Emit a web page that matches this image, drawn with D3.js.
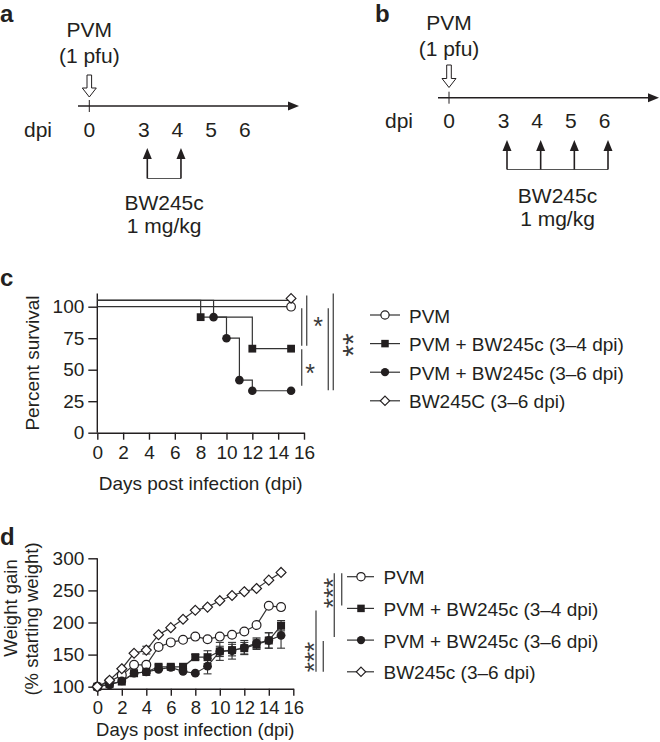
<!DOCTYPE html>
<html><head><meta charset="utf-8">
<script src="https://cdn.jsdelivr.net/npm/d3@7"></script>
<style>
body{margin:0;background:#fff}
svg{display:block;font-family:"Liberation Sans",Arial,Helvetica,sans-serif}
</style>
</head><body>
<svg id="fig" width="660" height="742"></svg>
<script>
// ---------------- DATA ----------------
const timelineDays = [0, 3, 4, 5, 6];
const doseDaysA = [3, 4];
const doseDaysB = [3, 4, 5, 6];

const survTicksX = [0, 2, 4, 6, 8, 10, 12, 14, 16];
const survTicksY = [0, 25, 50, 75, 100];
// Kaplan-Meier steps (day, percent)
const survDaysPVM = [0, 15];
const survValsPVM = [100, 100];
const survDaysBW34 = [0, 8, 12, 15];
const survValsBW34 = [105, 91.7, 66.7, 66.7];
const survDaysBW36 = [0, 9, 10, 11, 12, 15];
const survValsBW36 = [105, 91.7, 75, 41.7, 33.3, 33.3];
const survDaysBW = [0, 15];
const survValsBW = [105, 105];

const weightTicksX = [0, 2, 4, 6, 8, 10, 12, 14, 16];
const weightTicksY = [100, 150, 200, 250, 300];
const weightDays = [0, 1, 2, 3, 4, 5, 6, 7, 8, 9, 10, 11, 12, 13, 14, 15];
const weightPVM  = [100, 108, 118, 134, 134, 162, 169, 173, 178, 174, 178, 181, 186, 196, 226, 224];
const weightBW34 = [100, 104, 108, 121, 123, 131, 131, 131, 146, 146, 155, 157, 160, 166, 172, 195];
const weightBW36 = [100, 103, 109, 121, 123, 127, 130, 124, 121, 132, 155, 156, 161, 168, 172, 180];
const weightBW   = [100, 110, 128, 152, 157, 181, 192, 205, 219, 224, 234, 242, 248, 253, 266, 278];
const errPVM  = [0, 0, 0, 0, 0, 0, 0, 0, 0, 0, 0, 0, 0, 0, 0, 0];
const errBW34 = [0, 0, 0, 2, 2, 3, 3, 3, 4, 10, 8, 9, 9, 8, 12, 8];
const errBW36 = [0, 0, 0, 2, 2, 2, 2, 2, 2, 12, 14, 13, 11, 8, 12, 20];
const errBW   = [0, 0, 0, 0, 6, 0, 0, 0, 0, 0, 0, 0, 0, 0, 0, 0];

const legendC = ["PVM", "PVM + BW245c (3\u20134 dpi)", "PVM + BW245c (3\u20136 dpi)", "BW245C (3\u20136 dpi)"];
const legendD = ["PVM", "PVM + BW245c (3\u20134 dpi)", "PVM + BW245c (3\u20136 dpi)", "BW245c (3\u20136 dpi)"];
const symbols = ["circleOpen", "square", "circle", "diamondOpen"];

// ---------------- HELPERS ----------------
const INK = "#231f20";
const svg = d3.select("#fig");
const FS = 19;

function text(g, x, y, s, o = {}) {
  return g.append("text").attr("x", x).attr("y", y).text(s)
    .attr("font-size", o.fs || FS)
    .attr("font-weight", o.fw || "normal")
    .attr("text-anchor", o.anchor || "start")
    .attr("fill", INK);
}
function marker(g, type, x, y, s) {
  const sw = 1.2;
  if (type === "circleOpen") {
    g.append("circle").attr("cx", x).attr("cy", y).attr("r", s * 0.55)
      .attr("fill", "#fff").attr("stroke", INK).attr("stroke-width", sw);
  } else if (type === "circle") {
    g.append("circle").attr("cx", x).attr("cy", y).attr("r", s * 0.55).attr("fill", INK);
  } else if (type === "square") {
    g.append("rect").attr("x", x - s / 2).attr("y", y - s / 2).attr("width", s).attr("height", s).attr("fill", INK);
  } else if (type === "diamondOpen") {
    const h = s * 0.62;
    g.append("path").attr("d", `M${x},${y - h}L${x + h},${y}L${x},${y + h}L${x - h},${y}Z`)
      .attr("fill", "#fff").attr("stroke", INK).attr("stroke-width", sw);
  }
}
function star(g, x, cy, fs) {
  text(g, x, cy + fs * 0.58, "*", { fs: fs, anchor: "middle" }).attr("fill", "#3a3a3a");
}
// vertically stacked asterisks as one rotated text
function stars(g, cx, cy, n, fs) {
  text(g, 0, 0, "*".repeat(n), { fs: fs, anchor: "middle" }).attr("x", null).attr("y", null)
    .attr("fill", "#3a3a3a")
    .attr("transform", `translate(${cx + fs * 0.58},${cy}) rotate(-90)`);
}
function vline(g, x, y1, y2) {
  g.append("line").attr("x1", x).attr("x2", x).attr("y1", y1).attr("y2", y2)
    .attr("stroke", "#555").attr("stroke-width", 1.4);
}

// ---------------- PANELS a & b (timelines) ----------------
function timeline(cfg) {
  const g = svg.append("g");
  const xs = d3.scaleLinear().domain([0, 3, 6]).range([cfg.x0, cfg.x0 + 54.5, cfg.x0 + 155.5]);
  text(g, cfg.labX, 22, cfg.label, { fs: 24, fw: "bold" });
  text(g, xs(0), cfg.pvmY, "PVM", { fs: 21, anchor: "middle" });
  text(g, xs(0), cfg.pvmY + 26, "(1 pfu)", { fs: 21, anchor: "middle" });
  // hollow arrow
  const ax = xs(0), t = cfg.hollowTop, b = cfg.hollowTip, hw = 7, sw = 2.3, hh = 9;
  g.append("path").attr("d",
    `M${ax - sw},${t}L${ax + sw},${t}L${ax + sw},${b - hh}L${ax + hw},${b - hh}L${ax},${b}L${ax - hw},${b - hh}L${ax - sw},${b - hh}Z`)
    .attr("fill", "#fff").attr("stroke", INK).attr("stroke-width", 1);
  // axis
  g.append("line").attr("x1", cfg.lineStart).attr("x2", cfg.lineEnd - 8).attr("y1", cfg.axisY).attr("y2", cfg.axisY)
    .attr("stroke", INK).attr("stroke-width", 1.6);
  g.append("path").attr("d", `M${cfg.lineEnd},${cfg.axisY}L${cfg.lineEnd - 11},${cfg.axisY - 4.5}L${cfg.lineEnd - 11},${cfg.axisY + 4.5}Z`).attr("fill", INK);
  g.append("line").attr("x1", xs(0)).attr("x2", xs(0)).attr("y1", cfg.axisY - 6).attr("y2", cfg.axisY + 6)
    .attr("stroke", INK).attr("stroke-width", 1);
  text(g, cfg.dpiX, cfg.numY, "dpi", { fs: 21 });
  timelineDays.forEach(d => text(g, xs(d), cfg.numY, String(d), { fs: 21, anchor: "middle" }));
  // dose arrows
  const doses = cfg.doses;
  g.append("line").attr("x1", xs(doses[0]) + 3.5).attr("x2", xs(doses[doses.length - 1]) + 3.5)
    .attr("y1", cfg.arrBottom).attr("y2", cfg.arrBottom).attr("stroke", "#555").attr("stroke-width", 1.2);
  doses.forEach(d => {
    const x = xs(d) + 3.5;
    g.append("line").attr("x1", x).attr("x2", x).attr("y1", cfg.arrBottom).attr("y2", cfg.arrTip + 8)
      .attr("stroke", INK).attr("stroke-width", 1.6);
    g.append("path").attr("d", `M${x},${cfg.arrTip}L${x + 4.5},${cfg.arrTip + 11}L${x - 4.5},${cfg.arrTip + 11}Z`).attr("fill", INK);
  });
  const mid = (xs(doses[0]) + xs(doses[doses.length - 1])) / 2 + 3.5;
  text(g, mid, cfg.bwY, "BW245c", { fs: 21, anchor: "middle" });
  text(g, mid, cfg.bwY + 23, "1 mg/kg", { fs: 21, anchor: "middle" });
}
timeline({ label: "a", labX: 0, x0: 89.3, pvmY: 37, hollowTop: 75, hollowTip: 97, lineStart: 78, lineEnd: 299, axisY: 106,
  dpiX: 24, numY: 137, doses: doseDaysA, arrTip: 148, arrBottom: 178.5, bwY: 210 });
timeline({ label: "b", labX: 375, x0: 449, pvmY: 30, hollowTop: 65, hollowTip: 87.5, lineStart: 438, lineEnd: 659, axisY: 97.7,
  dpiX: 385, numY: 128, doses: doseDaysB, arrTip: 140, arrBottom: 169.5, bwY: 203 });

// ---------------- PANEL c (survival) ----------------
(function () {
  const g = svg.append("g");
  text(g, 0, 286, "c", { fs: 24, fw: "bold" });
  const x = d3.scaleLinear().domain([0, 16]).range([97.3, 304]);
  const y = d3.scaleLinear().domain([0, 100]).range([432.7, 306.7]);
  const axX = g.append("g").attr("transform", `translate(0,${y(0)})`)
    .call(d3.axisBottom(x).tickValues(survTicksX).tickSize(7).tickSizeOuter(0).tickPadding(6));
  const axY = g.append("g").attr("transform", `translate(${x(0)},0)`)
    .call(d3.axisLeft(y).tickValues(survTicksY).tickSize(9).tickSizeOuter(0).tickPadding(4));
  axY.select(".domain").remove();
  g.append("line").attr("x1", x(0)).attr("x2", x(0)).attr("y1", y(0)).attr("y2", y(110.5))
    .attr("stroke", INK).attr("stroke-width", 1.4);
  [axX, axY].forEach(a => {
    a.selectAll("line,path").attr("stroke", INK).attr("stroke-width", 1.4);
    a.selectAll("text").attr("font-size", FS).attr("fill", INK).attr("font-family", null);
  });
  text(g, x(8), 490, "Days post infection (dpi)", { anchor: "middle" });
  text(g, 0, 0, "Percent survival", { anchor: "middle" }).attr("x", null).attr("y", null)
    .attr("transform", `translate(39,363) rotate(-90)`);

  const series = [
    { days: survDaysPVM, vals: survValsPVM, sym: symbols[0] },
    { days: survDaysBW, vals: survValsBW, sym: symbols[3] },
    { days: survDaysBW34, vals: survValsBW34, sym: symbols[1] },
    { days: survDaysBW36, vals: survValsBW36, sym: symbols[2] },
  ];
  const line = d3.line().x(d => x(d[0])).y(d => y(d[1])).curve(d3.curveStepAfter);
  series.forEach(s => {
    const pts = s.days.map((d, i) => [d, s.vals[i]]);
    g.append("path").attr("d", line(pts)).attr("fill", "none").attr("stroke", "#333").attr("stroke-width", 1.2);
  });
  series.forEach(s => {
    s.days.forEach((d, i) => { if (d > 0) marker(g, s.sym, x(d), y(s.vals[i]) + (s.sym === "diamondOpen" ? -2 : 0), 7.8); });
  });
  // significance
  vline(g, 301.7, y(100) + 1.5, y(66.7) - 3);
  vline(g, 306.7, y(105) - 5, y(66.7) - 3);
  star(g, 318, 320, 25);
  vline(g, 301.7, y(66.7) + 0.5, y(33.3) - 5);
  star(g, 310, 367, 25);
  vline(g, 328.3, y(100) + 1.5, y(33.3) - 0.5);
  vline(g, 333.3, y(105) - 7, y(33.3) - 0.5);
  stars(g, 345.7, 345, 2, 30);
  // legend
  legendC.forEach((t, i) => {
    const ly = 315 + i * 28.6;
    g.append("line").attr("x1", 370).attr("x2", 400).attr("y1", ly).attr("y2", ly).attr("stroke", "#333").attr("stroke-width", 1.2);
    marker(g, symbols[i], 385, ly, 7.5);
    text(g, 409, ly + 7.5, t);
  });
})();

// ---------------- PANEL d (weight) ----------------
(function () {
  const g = svg.append("g");
  text(g, 0, 545, "d", { fs: 24, fw: "bold" });
  const x = d3.scaleLinear().domain([0, 16]).range([97.3, 293.3]);
  const y = d3.scaleLinear().domain([100, 300]).range([686.7, 558.3]);
  const axisY0 = y(100) + 2;
  const axX = g.append("g").attr("transform", `translate(0,${axisY0})`)
    .call(d3.axisBottom(x).tickValues(weightTicksX).tickSize(7).tickSizeOuter(0).tickPadding(5));
  const axY = g.append("g").attr("transform", `translate(${x(0)},0)`)
    .call(d3.axisLeft(y).tickValues(weightTicksY).tickSize(9).tickSizeOuter(0).tickPadding(4));
  axY.select(".domain").remove();
  g.append("line").attr("x1", x(0)).attr("x2", x(0)).attr("y1", axisY0).attr("y2", y(300))
    .attr("stroke", INK).attr("stroke-width", 1.4);
  [axX, axY].forEach(a => {
    a.selectAll("line,path").attr("stroke", INK).attr("stroke-width", 1.4);
    a.selectAll("text").attr("font-size", FS).attr("fill", INK).attr("font-family", null);
  });
  axX.selectAll("text").attr("font-size", 18.5);
  text(g, x(8), 735.5, "Days post infection (dpi)", { anchor: "middle", fs: 18.5 });
  text(g, 0, 0, "Weight gain", { anchor: "middle", fs: 18.5 }).attr("x", null).attr("y", null)
    .attr("transform", `translate(17,608) rotate(-90)`);
  text(g, 0, 0, "(% starting weight)", { anchor: "middle", fs: 18.5 }).attr("x", null).attr("y", null)
    .attr("transform", `translate(37.5,619) rotate(-90)`);

  const series = [
    { vals: weightPVM, err: errPVM, sym: symbols[0] },
    { vals: weightBW34, err: errBW34, sym: symbols[1] },
    { vals: weightBW36, err: errBW36, sym: symbols[2] },
    { vals: weightBW, err: errBW, sym: symbols[3] },
  ];
  const line = d3.line().x((d, i) => x(weightDays[i])).y(d => y(d));
  // error bars
  series.forEach(s => {
    s.err.forEach((e, i) => {
      if (e <= 0) return;
      const cx = x(weightDays[i]), v = s.vals[i];
      g.append("line").attr("x1", cx).attr("x2", cx).attr("y1", y(v - e)).attr("y2", y(v + e)).attr("stroke", "#333").attr("stroke-width", 1.1);
      [v - e, v + e].forEach(vv => g.append("line").attr("x1", cx - 4).attr("x2", cx + 4).attr("y1", y(vv)).attr("y2", y(vv)).attr("stroke", "#333").attr("stroke-width", 1.1));
    });
  });
  series.forEach(s => {
    g.append("path").attr("d", line(s.vals)).attr("fill", "none").attr("stroke", "#333").attr("stroke-width", 1.2);
  });
  series.forEach(s => {
    s.vals.forEach((v, i) => marker(g, s.sym, x(weightDays[i]), y(v), 8));
  });
  // legend
  const rows = legendD.map((t, i) => 576.7 + i * 31.7);
  legendD.forEach((t, i) => {
    const ly = rows[i];
    g.append("line").attr("x1", 347).attr("x2", 374).attr("y1", ly).attr("y2", ly).attr("stroke", "#333").attr("stroke-width", 1.2);
    marker(g, symbols[i], 361, ly, 7.5);
    text(g, 383.5, ly + 7.5, t);
  });
  // significance
  vline(g, 341.7, rows[0] - 3.5, rows[1] - 3);
  vline(g, 334.3, rows[0] - 3.5, rows[2] - 3);
  stars(g, 326.7, 593, 3, 26);
  vline(g, 316, rows[1] + 2, rows[3]);
  vline(g, 323.3, rows[2] + 1, rows[3]);
  stars(g, 308.3, 657, 3, 26);
})();
</script>
</body></html>
